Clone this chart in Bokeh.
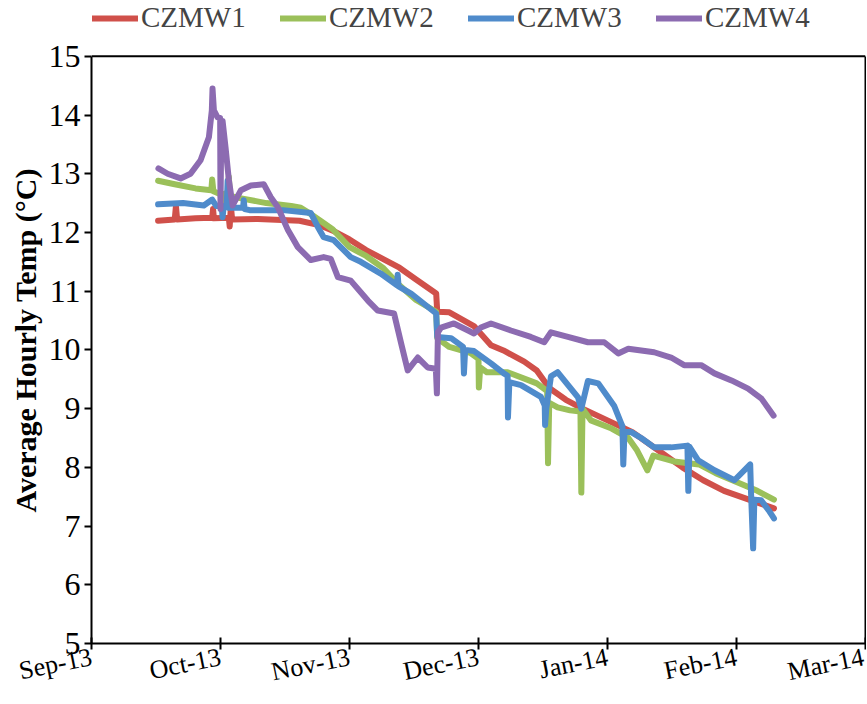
import pandas as pd
from bokeh.plotting import figure
from bokeh.models import Range1d, FixedTicker, Legend, LegendItem, LinearAxis, Span, Title
from bokeh.embed import file_html
from bokeh.resources import INLINE

series_names = ["CZMW1", "CZMW2", "CZMW3", "CZMW4"]
series_colors = ["#D0504A", "#9BC05A", "#4F8BCB", "#8C6BB1"]

tick_dates = ["2013-09-01", "2013-10-02", "2013-11-02", "2013-12-03",
              "2014-01-03", "2014-02-03", "2014-03-06"]
tick_labels = ["Sep-13", "Oct-13", "Nov-13", "Dec-13", "Jan-14", "Feb-14", "Mar-14"]
y_ticks = [5, 6, 7, 8, 9, 10, 11, 12, 13, 14, 15]
y_title = "Average Hourly Temp (°C)"

czmw1_time = ["2013-09-17 00:00", "2013-09-21 00:00", "2013-09-21 07:00", "2013-09-21 14:00",
              "2013-09-26 00:00", "2013-09-30 00:00", "2013-09-30 05:00", "2013-09-30 10:00",
              "2013-10-04 00:00", "2013-10-04 05:00", "2013-10-04 12:00", "2013-10-04 19:00",
              "2013-10-11 00:00", "2013-10-21 00:00", "2013-10-26 00:00", "2013-10-29 00:00",
              "2013-11-02 00:00", "2013-11-06 00:00", "2013-11-10 00:00", "2013-11-14 00:00",
              "2013-11-18 00:00", "2013-11-22 20:00", "2013-11-23 02:00", "2013-11-26 00:00",
              "2013-12-02 00:00", "2013-12-06 00:00", "2013-12-09 00:00", "2013-12-14 00:00",
              "2013-12-17 00:00", "2013-12-20 00:00", "2013-12-24 00:00", "2013-12-28 00:00",
              "2014-01-03 00:00", "2014-01-09 00:00", "2014-01-15 00:00", "2014-01-21 00:00",
              "2014-01-26 00:00", "2014-01-31 00:00", "2014-02-06 00:00", "2014-02-12 00:00"]
czmw1_temp = [12.2, 12.22, 12.45, 12.22, 12.24, 12.25, 12.4, 12.24, 12.25, 12.1, 12.45, 12.22,
              12.23, 12.2, 12.12, 12.03, 11.88, 11.7, 11.55, 11.4, 11.2, 10.96, 10.65, 10.64,
              10.4, 10.08, 9.99, 9.8, 9.65, 9.35, 9.15, 9.0, 8.8, 8.6, 8.3, 8.0,
              7.78, 7.6, 7.45, 7.3]

czmw2_time = ["2013-09-17 00:00", "2013-09-21 00:00", "2013-09-26 00:00", "2013-09-29 19:00",
              "2013-09-30 00:00", "2013-09-30 07:00", "2013-10-02 00:00", "2013-10-02 07:00",
              "2013-10-02 14:00", "2013-10-03 19:00", "2013-10-04 00:00", "2013-10-04 07:00",
              "2013-10-07 00:00", "2013-10-13 00:00", "2013-10-19 00:00", "2013-10-21 07:00",
              "2013-10-24 00:00", "2013-10-26 00:00", "2013-10-29 00:00", "2013-11-02 00:00",
              "2013-11-06 00:00", "2013-11-10 00:00", "2013-11-14 00:00", "2013-11-18 00:00",
              "2013-11-22 20:00", "2013-11-23 02:00", "2013-11-26 00:00", "2013-12-01 00:00",
              "2013-12-03 00:00", "2013-12-03 02:00", "2013-12-03 10:00", "2013-12-05 00:00",
              "2013-12-10 00:00", "2013-12-17 00:00", "2013-12-19 12:00", "2013-12-19 17:00",
              "2013-12-20 00:00", "2013-12-22 00:00", "2013-12-25 00:00", "2013-12-27 12:00",
              "2013-12-27 17:00", "2013-12-28 00:00", "2013-12-30 00:00", "2014-01-04 00:00",
              "2014-01-08 00:00", "2014-01-10 00:00", "2014-01-12 14:00", "2014-01-14 00:00",
              "2014-01-19 00:00", "2014-01-25 00:00", "2014-01-29 00:00", "2014-02-03 00:00",
              "2014-02-08 00:00", "2014-02-12 00:00"]
czmw2_temp = [12.88, 12.82, 12.75, 12.72, 12.9, 12.7, 12.65, 12.5, 12.65, 12.68, 12.95, 12.62,
              12.58, 12.5, 12.45, 12.42, 12.3, 12.2, 12.05, 11.75, 11.6, 11.4, 11.1, 10.85,
              10.65, 10.2, 10.05, 9.95, 9.85, 9.36, 9.7, 9.62, 9.62, 9.43, 9.3, 8.07,
              9.1, 9.02, 8.97, 8.95, 7.57, 9.0, 8.8, 8.66, 8.5, 8.3, 7.95, 8.2,
              8.1, 8.05, 7.9, 7.75, 7.6, 7.45]

czmw3_time = ["2013-09-17 00:00", "2013-09-23 00:00", "2013-09-28 00:00", "2013-09-30 00:00",
              "2013-10-01 00:00", "2013-10-02 07:00", "2013-10-02 12:00", "2013-10-02 19:00",
              "2013-10-03 12:00", "2013-10-03 17:00", "2013-10-04 00:00", "2013-10-07 10:00",
              "2013-10-07 14:00", "2013-10-07 19:00", "2013-10-09 00:00", "2013-10-17 00:00",
              "2013-10-23 17:00", "2013-10-25 10:00", "2013-10-26 19:00", "2013-10-29 05:00",
              "2013-11-02 07:00", "2013-11-04 17:00", "2013-11-09 12:00", "2013-11-13 10:00",
              "2013-11-13 14:00", "2013-11-13 19:00", "2013-11-16 19:00", "2013-11-22 20:00",
              "2013-11-23 02:00", "2013-11-26 10:00", "2013-11-29 07:00", "2013-11-29 12:00",
              "2013-11-29 19:00", "2013-12-01 22:00", "2013-12-06 00:00", "2013-12-09 02:00",
              "2013-12-10 00:00", "2013-12-10 02:00", "2013-12-10 10:00", "2013-12-13 05:00",
              "2013-12-18 00:00", "2013-12-18 22:00", "2013-12-19 00:00", "2013-12-19 07:00",
              "2013-12-20 10:00", "2013-12-22 00:00", "2013-12-26 22:00", "2013-12-27 17:00",
              "2013-12-29 07:00", "2013-12-31 19:00", "2014-01-04 14:00", "2014-01-06 07:00",
              "2014-01-06 14:00", "2014-01-06 19:00", "2014-01-07 02:00", "2014-01-08 17:00",
              "2014-01-11 02:00", "2014-01-14 05:00", "2014-01-18 07:00", "2014-01-22 05:00",
              "2014-01-22 10:00", "2014-01-22 17:00", "2014-01-24 19:00", "2014-01-28 17:00",
              "2014-02-02 12:00", "2014-02-06 07:00", "2014-02-06 12:00", "2014-02-07 00:00",
              "2014-02-07 07:00", "2014-02-08 22:00", "2014-02-10 17:00", "2014-02-12 00:00"]
czmw3_temp = [12.48, 12.5, 12.46, 12.56, 12.45, 12.45, 12.26, 12.45, 12.45, 12.88, 12.42, 12.42,
              12.55, 12.4, 12.38, 12.38, 12.33, 12.09, 11.92, 11.87, 11.58, 11.5, 11.3, 11.1,
              11.28, 11.08, 10.96, 10.62, 10.22, 10.2, 10.05, 9.6, 10.0, 9.98, 9.77, 9.6,
              9.56, 8.85, 9.45, 9.4, 9.2, 9.05, 8.72, 9.0, 9.55, 9.62, 9.19, 9.0,
              9.47, 9.43, 9.05, 8.75, 8.7, 8.05, 8.6, 8.6, 8.5, 8.34, 8.34, 8.37,
              7.6, 8.35, 8.12, 7.95, 7.78, 8.05, 7.55, 6.62, 7.45, 7.44, 7.27, 7.13]

czmw4_time = ["2013-09-17 02:00", "2013-09-19 07:00", "2013-09-22 10:00", "2013-09-24 19:00",
              "2013-09-27 05:00", "2013-09-29 05:00", "2013-09-29 22:00", "2013-09-30 02:00",
              "2013-09-30 10:00", "2013-10-01 07:00", "2013-10-01 22:00", "2013-10-02 00:00",
              "2013-10-02 05:00", "2013-10-02 12:00", "2013-10-03 05:00", "2013-10-04 00:00",
              "2013-10-04 22:00", "2013-10-06 22:00", "2013-10-09 07:00", "2013-10-12 10:00",
              "2013-10-14 02:00", "2013-10-15 19:00", "2013-10-18 05:00", "2013-10-20 14:00",
              "2013-10-23 17:00", "2013-10-26 19:00", "2013-10-28 12:00", "2013-10-30 05:00",
              "2013-11-02 07:00", "2013-11-06 10:00", "2013-11-08 19:00", "2013-11-12 17:00",
              "2013-11-14 10:00", "2013-11-16 00:00", "2013-11-18 10:00", "2013-11-20 19:00",
              "2013-11-22 18:00", "2013-11-23 00:00", "2013-11-23 06:00", "2013-11-24 00:00",
              "2013-11-27 02:00", "2013-11-30 12:00", "2013-12-01 22:00", "2013-12-03 14:00",
              "2013-12-06 00:00", "2013-12-10 19:00", "2013-12-15 14:00", "2013-12-18 19:00",
              "2013-12-20 10:00", "2013-12-24 12:00", "2013-12-29 07:00", "2014-01-02 05:00",
              "2014-01-05 14:00", "2014-01-08 00:00", "2014-01-14 05:00", "2014-01-18 07:00",
              "2014-01-21 10:00", "2014-01-25 12:00", "2014-01-28 17:00", "2014-02-01 19:00",
              "2014-02-05 19:00", "2014-02-09 00:00", "2014-02-11 22:00"]
czmw4_temp = [13.09, 13.0, 12.92, 13.0, 13.23, 13.62, 14.08, 14.45, 14.08, 13.96, 13.95, 12.4,
              13.9, 13.9, 13.45, 12.9, 12.46, 12.72, 12.8, 12.82, 12.6, 12.43, 12.04, 11.75,
              11.53, 11.58, 11.55, 11.24, 11.18, 10.84, 10.67, 10.62, 10.11, 9.65, 9.87, 9.7,
              9.68, 9.26, 10.3, 10.38, 10.45, 10.33, 10.28, 10.38, 10.45, 10.33, 10.22, 10.13,
              10.3, 10.22, 10.13, 10.13, 9.94, 10.02, 9.96, 9.87, 9.74, 9.74, 9.6, 9.48,
              9.34, 9.17, 8.88]

series_times = [czmw1_time, czmw2_time, czmw3_time, czmw4_time]
series_temps = [czmw1_temp, czmw2_temp, czmw3_temp, czmw4_temp]

FONT = "Liberation Serif"
tick_ts = pd.to_datetime(tick_dates)
tick_ms = [float((t - pd.Timestamp("1970-01-01")) // pd.Timedelta("1ms")) for t in tick_ts]

# the y range reaches a little above 15 so that the legend has room above the plot box
Y_TOP = 15.95

p = figure(width=866, height=704, x_axis_type="datetime",
           x_range=Range1d(tick_ts[0], tick_ts[-1]), y_range=Range1d(y_ticks[0], Y_TOP),
           output_backend="svg", toolbar_location=None,
           min_border_left=91, min_border_right=1, min_border_top=0, min_border_bottom=61,
           background_fill_color="white", border_fill_color="white")
p.xgrid.visible = False
p.ygrid.visible = False
p.outline_line_color = None

items = []
for name, color, tt, vv in zip(series_names, series_colors, series_times, series_temps):
    r = p.line(pd.to_datetime(tt), vv, line_color=color, line_width=6,
               line_join="round", line_cap="round")
    items.append(LegendItem(label=name, renderers=[r]))

legend = Legend(items=items, orientation="horizontal", location=(1, 609),
                label_text_font=FONT, label_text_font_size="29px",
                glyph_width=46, glyph_height=20, label_standoff=3, spacing=34,
                label_width=105, padding=0, margin=0,
                border_line_color=None, background_fill_alpha=0)
p.add_layout(legend, "center")

# top edge of the plot box
p.add_layout(Span(location=y_ticks[-1], dimension="width", line_color="black", line_width=2))

xa = p.xaxis[0]
xa.ticker = FixedTicker(ticks=tick_ms)
xa.major_label_overrides = {ms: lab for ms, lab in zip(tick_ms, tick_labels)}
xa.major_label_orientation = 0.2
xa.major_label_text_font = FONT
xa.major_label_text_font_size = "26px"
xa.major_label_text_color = "black"
xa.major_tick_in = 6
xa.major_tick_out = 6
xa.minor_tick_line_color = None
xa.axis_line_width = 2
xa.major_tick_line_width = 2
xa.major_label_standoff = 7

ya = p.yaxis[0]
ya.bounds = (y_ticks[0], y_ticks[-1])
ya.ticker = FixedTicker(ticks=y_ticks)
ya.major_label_text_font = FONT
ya.major_label_text_font_size = "32px"
ya.major_label_text_color = "black"
ya.major_tick_in = 0
ya.major_tick_out = 7
ya.minor_tick_line_color = None
ya.axis_line_width = 2
ya.major_tick_line_width = 2
ya.major_label_standoff = 4

# axis title, placed along the plot box (5..15) rather than the whole frame
p.add_layout(Title(text=y_title, align="left", offset=131, standoff=8,
                   text_font=FONT, text_font_style="bold", text_font_size="30px",
                   text_color="black"), "left")

# right edge of the plot box
ra = LinearAxis(bounds=(y_ticks[0], y_ticks[-1]), ticker=FixedTicker(ticks=[]),
                axis_line_width=2, axis_line_color="black",
                major_tick_line_color=None, minor_tick_line_color=None,
                major_label_text_font_size="0px")
p.add_layout(ra, "right")

open("out.html", "w").write(file_html(p, INLINE))
